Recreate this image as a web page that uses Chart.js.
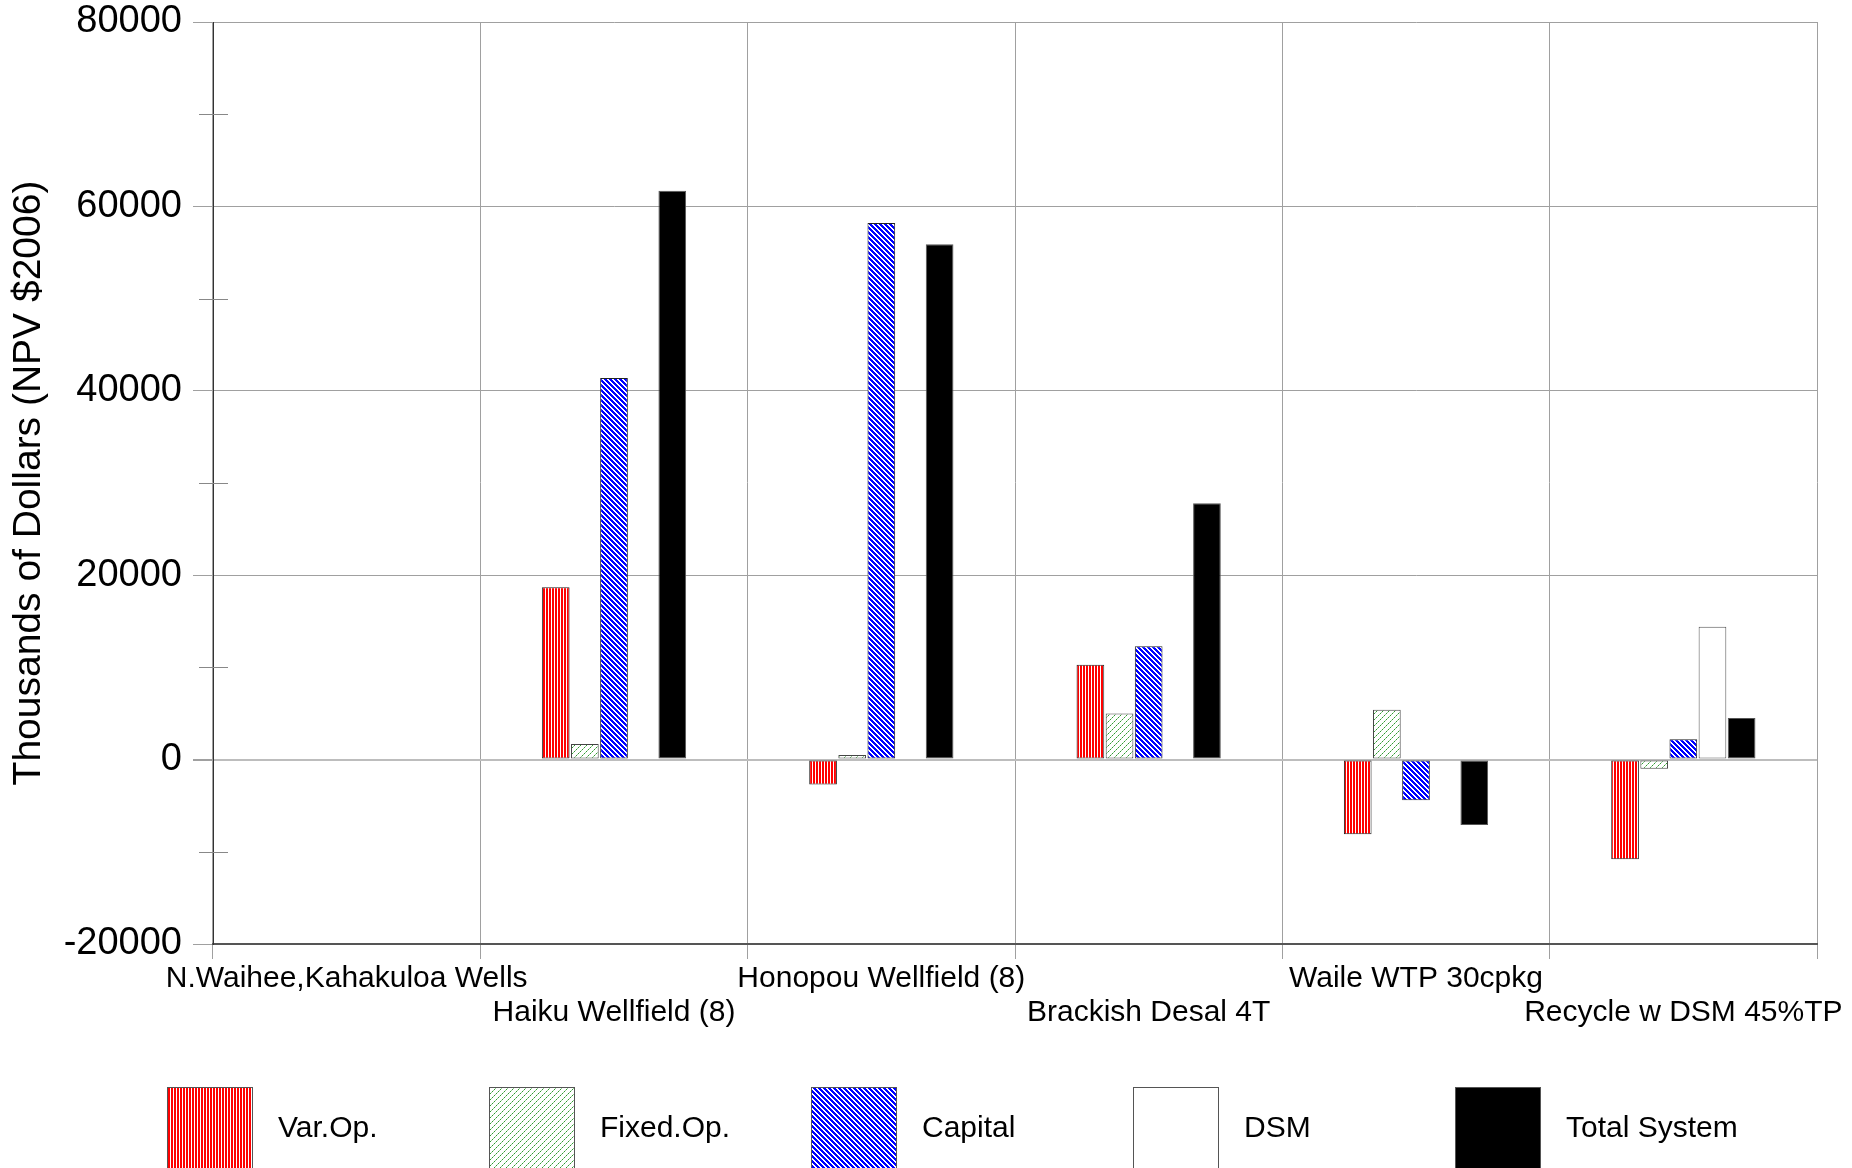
<!DOCTYPE html>
<html>
<head>
<meta charset="utf-8">
<title>NPV cost components</title>
<script src="https://cdn.jsdelivr.net/npm/chart.js@4.4.1/dist/chart.umd.min.js"></script>
<style>
  html, body { margin: 0; padding: 0; background: #fff; }
  #wrap { width: 1852px; height: 1168px; }
</style>
</head>
<body>
<div id="wrap"><canvas id="chart"></canvas></div>
<script>
const categories = ['N.Waihee,Kahakuloa Wells', 'Haiku Wellfield (8)', 'Honopou Wellfield (8)',
  'Brackish Desal 4T', 'Waile WTP 30cpkg', 'Recycle w DSM 45%TP']
const seriesNames = ['Var.Op.', 'Fixed.Op.', 'Capital', 'DSM', 'Total System']
const varOp = [0, 18700, -2700, 10300, -8100, -10800]
const fixedOp = [0, 1700, 500, 5000, 5400, -1000]
const capital = [0, 41400, 58200, 12300, -4400, 2200]
const dsm = [0, 0, 0, 0, 0, 14400]
const totalSystem = [0, 61700, 55900, 27800, -7100, 4500]
const yTicks = [-20000, 0, 20000, 40000, 60000, 80000]

const font = 'Liberation Sans, Arial, sans-serif'
const canvas = document.getElementById('chart')
const ctx = canvas.getContext('2d')

// little tiles for the hatched fills
function tile(size, paint) {
  const c = document.createElement('canvas')
  c.width = size
  c.height = size
  const g = c.getContext('2d')
  g.fillStyle = '#fff'
  g.fillRect(0, 0, size, size)
  paint(g, size)
  return ctx.createPattern(c, 'repeat')
}

const redFill = tile(3, (g, s) => {
  g.fillStyle = '#ff0000'
  g.fillRect(0, 0, 2, s)
})
const greenFill = tile(6, (g, s) => {
  for (let i = 0; i < s; i++) {
    g.fillStyle = i % 2 ? '#8fcc8f' : '#2f9a2f'
    g.fillRect(i, s - 1 - i, 1, 1)
  }
})
const blueFill = tile(5, (g, s) => {
  g.fillStyle = '#0000ff'
  for (let y = 0; y < s; y++)
    for (let x = 0; x < s; x++)
      if ((x - y + s) % s < 3) g.fillRect(x, y, 1, 1)
})

const fills = [redFill, greenFill, blueFill, '#ffffff', '#000000']
const borders = ['#222', '#444', '#222', '#555', '#555']
const values = [varOp, fixedOp, capital, dsm, totalSystem]

const datasets = seriesNames.map((name, i) => ({
  label: name,
  data: values[i],
  backgroundColor: fills[i],
  borderColor: borders[i],
  borderWidth: 1,
  borderSkipped: false,
  categoryPercentage: 0.545,
  barPercentage: 0.95
}))

// short minor ticks half way between the labelled values
const minorTicks = {
  id: 'minorTicks',
  afterDatasetsDraw(chart) {
    const y = chart.scales.y
    const left = chart.chartArea.left
    const c = chart.ctx
    c.save()
    c.strokeStyle = '#888'
    c.lineWidth = 1
    for (let i = 0; i < yTicks.length - 1; i++) {
      const py = Math.round(y.getPixelForValue((yTicks[i] + yTicks[i + 1]) / 2)) + 0.5
      c.beginPath()
      c.moveTo(left - 14, py)
      c.lineTo(left + 15, py)
      c.stroke()
    }
    c.restore()
  }
}

// legend with equal spacing, big swatches
const boxLegend = {
  id: 'boxLegend',
  afterDraw(chart) {
    const area = chart.chartArea
    const c = chart.ctx
    const step = (area.right - area.left) / 4.98
    const top = area.bottom + 143
    c.save()
    c.font = '30px ' + font
    c.textBaseline = 'middle'
    chart.data.datasets.forEach((ds, i) => {
      const x = Math.round(area.left - 46 + i * step)
      c.fillStyle = ds.backgroundColor
      c.fillRect(x, top, 86, 120)
      c.strokeStyle = '#555'
      c.lineWidth = 1
      c.strokeRect(x + 0.5, top + 0.5, 85, 120)
      c.fillStyle = '#000'
      c.fillText(ds.label, x + 111, top + 42)
    })
    c.restore()
  }
}

new Chart(canvas, {
  type: 'bar',
  data: { labels: categories, datasets: datasets },
  plugins: [minorTicks, boxLegend],
  options: {
    responsive: true,
    maintainAspectRatio: false,
    animation: false,
    layout: { padding: { left: 0, right: 35, top: 0, bottom: 134 } },
    plugins: {
      legend: { display: false },
      tooltip: { enabled: false }
    },
    scales: {
      x: {
        afterFit(scale) { scale.height = 90 },
        grid: {
          offset: true,
          color: '#a0a0a0',
          lineWidth: 1,
          tickLength: 15,
          tickColor: '#a0a0a0'
        },
        border: { color: '#555', width: 2 },
        ticks: {
          autoSkip: false,
          maxRotation: 0,
          minRotation: 0,
          padding: 3,
          color: '#000',
          font: { family: font, size: 30, lineHeight: 1.13 },
          callback: (v, i) => i % 2 ? ['', categories[i]] : categories[i]
        }
      },
      y: {
        min: yTicks[0],
        max: yTicks[yTicks.length - 1],
        afterFit(scale) {
          scale.width = 213
          scale.paddingTop = 22
          scale.paddingBottom = 0
        },
        afterBuildTicks(scale) { scale.ticks = yTicks.map(v => ({ value: v })) },
        grid: {
          color: c => c.tick && c.tick.value === 0 ? '#bdbdbd' : '#a0a0a0',
          lineWidth: c => c.tick && c.tick.value === 0 ? 2 : 1,
          tickLength: 20,
          tickColor: '#a0a0a0'
        },
        border: { color: '#333', width: 1 },
        ticks: {
          padding: 11,
          color: '#000',
          font: { family: font, size: 38 },
          callback: v => String(v)
        },
        title: {
          display: true,
          text: 'Thousands of Dollars (NPV $2006)',
          color: '#000',
          font: { family: font, size: 39 },
          padding: { top: 6, bottom: 0 }
        }
      }
    }
  }
})
</script>
</body>
</html>
